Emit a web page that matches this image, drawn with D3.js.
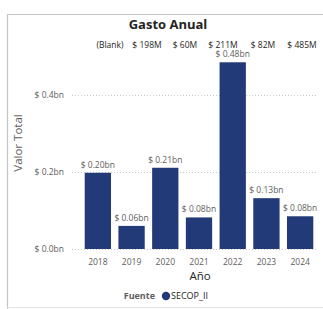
<!DOCTYPE html>
<html><head><meta charset="utf-8">
<script src="https://cdn.jsdelivr.net/npm/d3@7"></script>
<style>body{margin:0;background:#fff;} svg{display:block;font-family:"Open Sans","Segoe UI",sans-serif;}</style>
</head><body><svg id="c" width="323" height="309"></svg>
<script>
const years = ["2018","2019","2020","2021","2022","2023","2024"];
const values = [0.198, 0.060, 0.211, 0.082, 0.485, 0.132, 0.085];
const barLabels = ["$ 0.20bn","$ 0.06bn","$ 0.21bn","$ 0.08bn","$ 0.48bn","$ 0.13bn","$ 0.08bn"];
const yTicks = [0, 0.2, 0.4];
const yTickLabels = ["$ 0.0bn","$ 0.2bn","$ 0.4bn"];
const topRow = ["(Blank)","$ 198M","$ 60M","$ 211M","$ 82M","$ 485M"];
const topRowX = [110, 147, 185, 223, 263, 302];
const color = "#233a78";

const svg = d3.select("#c");
// frame
svg.append("path").attr("d","M7.5,309 V14.5 H323").attr("fill","none").attr("stroke","#c4c4c4").attr("stroke-width",1.2);
svg.append("line").attr("x1",7).attr("x2",323).attr("y1",307.5).attr("y2",307.5).attr("stroke","#e2e2e2");

const x = d3.scaleBand().domain(years).range([81, 317]).paddingInner(0.22).paddingOuter(0.11);
const y = d3.scaleLinear().domain([0, 0.4]).range([249, 95]);

svg.append("text").attr("x",168).attr("y",29).attr("text-anchor","middle")
  .attr("font-size",13).attr("font-weight","bold").attr("fill","#252423").text("Gasto Anual");

svg.append("g").selectAll("text").data(topRow).join("text")
  .attr("x",(d,i)=>topRowX[i]).attr("y",48).attr("text-anchor","middle")
  .attr("font-size",8.5).attr("fill","#252423").text(d=>d);

// grid
const g = svg.append("g");
g.selectAll("line.grid").data(yTicks).join("line").attr("class","grid")
  .attr("x1",72).attr("x2",318).attr("y1",d=>y(d)+0.5).attr("y2",d=>y(d)+0.5)
  .attr("stroke","#c8c8c8").attr("stroke-dasharray","1,2");
g.selectAll("text.yt").data(yTicks).join("text").attr("class","yt")
  .attr("x",64).attr("y",d=>y(d)+3).attr("text-anchor","end")
  .attr("font-size",8.5).attr("fill","#605e5c").text((d,i)=>yTickLabels[i]);

svg.append("text").attr("transform","translate(22,143) rotate(-90)").attr("text-anchor","middle")
  .attr("font-size",11.5).attr("fill","#605e5c").text("Valor Total");

// bars
svg.append("g").selectAll("rect").data(values).join("rect")
  .attr("x",(d,i)=>x(years[i])).attr("width",x.bandwidth())
  .attr("y",d=>y(d)).attr("height",d=>y(0)-y(d)).attr("fill",color);

svg.append("g").selectAll("text").data(values).join("text")
  .attr("x",(d,i)=>x(years[i])+x.bandwidth()/2).attr("y",d=>Math.max(y(d)-5, 53))
  .attr("text-anchor","middle").attr("font-size",8.5).attr("fill","#605e5c")
  .text((d,i)=>barLabels[i]);

// x axis
const xa = svg.append("g").attr("transform","translate(0,249)").call(d3.axisBottom(x).tickSize(0).tickPadding(10));
xa.select(".domain").remove();
xa.selectAll("text").attr("font-size",8.5).attr("fill","#605e5c").attr("font-family","'Open Sans',sans-serif");

svg.append("text").attr("x",200).attr("y",280).attr("text-anchor","middle")
  .attr("font-size",11.5).attr("fill","#252423").text("Año");

// legend
svg.append("text").attr("x",155).attr("y",299).attr("text-anchor","end")
  .attr("font-size",9).attr("font-weight","bold").attr("fill","#605e5c").text("Fuente");
svg.append("circle").attr("cx",166).attr("cy",296).attr("r",4.2).attr("fill",color);
svg.append("text").attr("x",171).attr("y",299)
  .attr("font-size",9).attr("fill","#252423").text("SECOP_II");
</script></body></html>
